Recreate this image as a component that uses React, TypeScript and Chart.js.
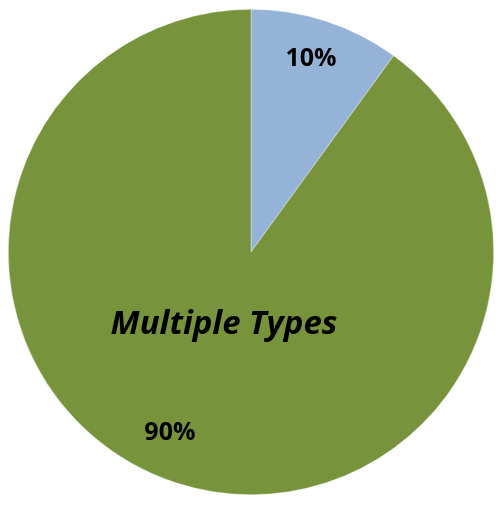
import React, { useEffect, useRef } from "react";
import { Chart, registerables } from "chart.js";

Chart.register(...registerables);

const categories = ["Other", "Multiple Types"];
const values = [10, 90];
const percentLabels = ["10%", "90%"];
const sliceColors = ["#95B3D7", "#77933C"];

const labelPlugin = {
  id: "sliceLabels",
  afterDatasetsDraw(chart: any) {
    const { ctx } = chart;
    const meta = chart.getDatasetMeta(0);
    const opts = [
      { r: 0.84, angleShift: 0 },
      { r: 0.81, angleShift: 0.1 },
    ];
    ctx.save();
    ctx.fillStyle = "#000";
    ctx.textAlign = "center";
    ctx.textBaseline = "middle";
    meta.data.forEach((arc: any, i: number) => {
      const { x, y, startAngle, endAngle, outerRadius } = arc.getProps(
        ["x", "y", "startAngle", "endAngle", "outerRadius"],
        true
      );
      const mid = (startAngle + endAngle) / 2 + opts[i].angleShift;
      const rr = outerRadius * opts[i].r;
      ctx.font = "bold 25px 'Open Sans'";
      ctx.fillText(percentLabels[i], x + Math.cos(mid) * rr - (i === 1 ? 2 : 3), y + Math.sin(mid) * rr + 1);
      if (i === 1) {
        ctx.font = "italic bold 33px 'Open Sans'";
        ctx.fillText(categories[1], x - 27, y + 73);
      }
    });
    ctx.restore();
  },
};

export default function App() {
  const ref = useRef<HTMLCanvasElement>(null);
  useEffect(() => {
    if (!ref.current) return;
    const chart = new Chart(ref.current, {
      type: "pie",
      data: {
        labels: categories,
        datasets: [
          {
            data: values,
            backgroundColor: sliceColors,
            borderColor: "rgba(255,255,255,0.6)",
            borderWidth: 0.6,
          },
        ],
      },
      options: {
        responsive: false,
        animation: false,
        layout: { padding: { left: 8, right: 7, top: 9, bottom: 10 } },
        plugins: {
          legend: { display: false },
          tooltip: { enabled: false },
        },
      },
      plugins: [labelPlugin],
    });
    return () => chart.destroy();
  }, []);
  return (
    <div style={{ position: "fixed", left: 0, top: 0, width: 501, height: 505, background: "#fff" }}>
      <canvas ref={ref} width={501} height={505} style={{ display: "block" }} />
    </div>
  );
}
